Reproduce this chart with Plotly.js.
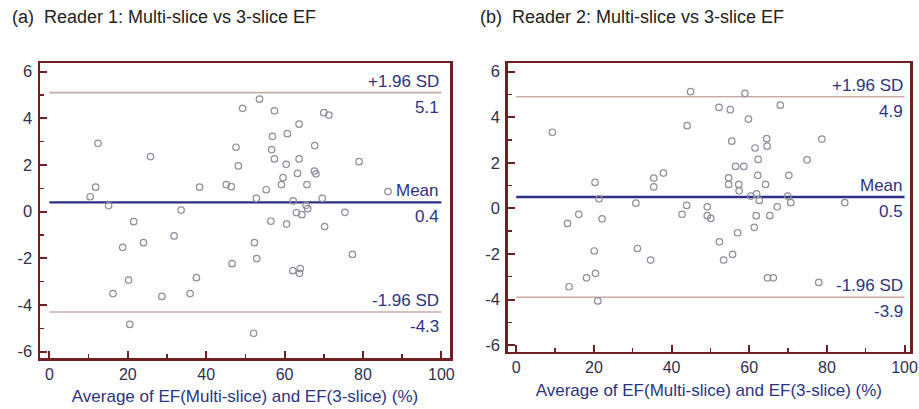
<!DOCTYPE html>
<html>
<head>
<meta charset="utf-8">
<script src="https://cdn.plot.ly/plotly-3.0.1.min.js"></script>
<style>html,body{margin:0;padding:0;background:#fff;}#chart{width:919px;height:409px;}</style>
</head>
<body>
<div id="chart"></div>
<script>
// Panel (a): Reader 1
const readerAX = [12.4, 25.8, 11.8, 10.4, 15.1, 38.3, 45.1, 46.4, 33.6, 21.5, 24.0, 18.7, 31.8, 46.6, 37.5, 20.2, 16.2, 35.9, 28.7, 20.5, 53.6, 49.3, 57.4, 70.0, 71.3, 63.7, 56.9, 60.7, 47.6, 67.7, 56.7, 57.4, 63.7, 60.4, 48.2, 79.0, 63.3, 67.6, 68.0, 59.6, 59.2, 55.3, 65.7, 52.8, 69.6, 62.2, 65.5, 65.9, 63.0, 64.4, 75.4, 86.4, 56.5, 60.5, 70.2, 52.3, 52.9, 77.3, 62.1, 64.0, 63.8, 52.1];
const readerAY = [2.93, 2.36, 1.05, 0.64, 0.26, 1.05, 1.16, 1.07, 0.07, -0.43, -1.33, -1.53, -1.04, -2.23, -2.83, -2.93, -3.51, -3.51, -3.63, -4.83, 4.82, 4.43, 4.32, 4.24, 4.14, 3.75, 3.23, 3.34, 2.76, 2.83, 2.66, 2.26, 2.26, 2.03, 1.96, 2.14, 1.64, 1.74, 1.62, 1.46, 1.16, 0.94, 1.16, 0.57, 0.57, 0.46, 0.27, 0.13, -0.04, -0.13, -0.03, 0.86, -0.41, -0.53, -0.64, -1.33, -2.01, -1.83, -2.53, -2.44, -2.64, -5.21];
const statsA = {upper: 5.1, mean: 0.4, lower: -4.3};

// Panel (b): Reader 2
const readerBX = [9.3, 44.9, 44.0, 37.9, 35.4, 35.4, 20.3, 21.3, 30.8, 43.9, 42.7, 16.1, 13.2, 22.1, 20.1, 31.2, 34.6, 20.4, 18.1, 13.6, 21.0, 58.9, 68.0, 52.2, 55.1, 59.8, 55.5, 64.5, 64.6, 61.5, 78.7, 62.3, 74.9, 56.5, 58.6, 62.2, 70.2, 54.7, 54.7, 57.3, 57.4, 64.2, 60.4, 61.9, 62.6, 69.9, 70.7, 67.2, 84.6, 49.2, 49.2, 50.1, 61.8, 65.3, 61.3, 57.0, 52.3, 55.7, 53.4, 64.7, 66.2, 77.9];
const readerBY = [3.34, 5.12, 3.63, 1.55, 1.33, 0.94, 1.14, 0.42, 0.23, 0.13, -0.26, -0.26, -0.66, -0.46, -1.87, -1.76, -2.27, -2.85, -3.05, -3.44, -4.06, 5.05, 4.53, 4.43, 4.33, 3.92, 2.95, 3.06, 2.73, 2.65, 3.04, 2.15, 2.13, 1.84, 1.84, 1.45, 1.45, 1.34, 1.05, 1.05, 0.77, 1.05, 0.54, 0.64, 0.35, 0.54, 0.25, 0.07, 0.25, 0.07, -0.32, -0.44, -0.32, -0.32, -0.83, -1.07, -1.47, -2.02, -2.27, -3.05, -3.05, -3.25];
const statsB = {upper: 4.9, mean: 0.5, lower: -3.9};

const panelTitles = ["(a)  Reader 1: Multi-slice vs 3-slice EF", "(b)  Reader 2: Multi-slice vs 3-slice EF"];
const xTitle = "Average of EF(Multi-slice) and EF(3-slice) (%)";
const yTickVals = [-6, -4, -2, 0, 2, 4, 6];
const yTickText = ["-6", "-4", "-2", "0", "2", "4", "6"];
const xTickVals = [0, 20, 40, 60, 80, 100];
const xTickText = ["0", "20", "40", "60", "80", "100"];
const lineSpan = [0, 100];

const frameColor = '#6e1f22';
const navy = '#2b3480';
const labelColor = '#2f3050';
const markerColor = '#8e8e9c';
const sdColor = '#c9aba6';
const meanColor = '#2c2f86';
const sans = '"Liberation Sans", Arial, sans-serif';

function panelTraces(xs, ys, st, xa, ya) {
  const tr = [];
  tr.push({x: lineSpan, y: [st.upper, st.upper], xaxis: xa, yaxis: ya, mode: 'lines', line: {color: sdColor, width: 1.6}, hoverinfo: 'skip', showlegend: false});
  tr.push({x: lineSpan, y: [st.lower, st.lower], xaxis: xa, yaxis: ya, mode: 'lines', line: {color: sdColor, width: 1.6}, hoverinfo: 'skip', showlegend: false});
  tr.push({x: lineSpan, y: [st.mean, st.mean], xaxis: xa, yaxis: ya, mode: 'lines', line: {color: meanColor, width: 2.4}, hoverinfo: 'skip', showlegend: false});
  tr.push({x: xs, y: ys, xaxis: xa, yaxis: ya, mode: 'markers', type: 'scatter',
    marker: {symbol: 'circle-open', size: 6.5, color: markerColor, line: {width: 1.2, color: markerColor}}, showlegend: false});
  return tr;
}

const data = [].concat(
  panelTraces(readerAX, readerAY, statsA, 'x', 'y'),
  panelTraces(readerBX, readerBY, statsB, 'x2', 'y2')
);

function xAxis(domain, range, anchor) {
  return {
    domain: domain, range: range, anchor: anchor,
    showline: true, mirror: true, linecolor: frameColor, linewidth: 2.5,
    ticks: 'inside', ticklen: 7, tickwidth: 2, tickcolor: frameColor,
    tickmode: 'array', tickvals: xTickVals, ticktext: xTickText,
    minor: {ticks: 'inside', ticklen: 4, tickwidth: 1.5, tickcolor: frameColor, dtick: 10, tick0: 0, showgrid: false},
    showgrid: false, zeroline: false,
    tickfont: {family: sans, size: 16, color: labelColor},
    ticklabelstandoff: 0,
    title: {text: xTitle, font: {family: sans, size: 17, color: navy}, standoff: 9}
  };
}
function yAxis(domain, range, anchor) {
  return {
    domain: domain, range: range, anchor: anchor,
    showline: true, mirror: true, linecolor: frameColor, linewidth: 2.5,
    ticks: 'inside', ticklen: 7, tickwidth: 2, tickcolor: frameColor,
    tickmode: 'array', tickvals: yTickVals, ticktext: yTickText,
    minor: {ticks: 'inside', ticklen: 4, tickwidth: 1.5, tickcolor: frameColor, dtick: 1, tick0: 0, showgrid: false},
    showgrid: false, zeroline: false,
    tickfont: {family: sans, size: 16.5, color: labelColor},
    ticklabelstandoff: 2
  };
}

function statAnnotations(st, xa, ya) {
  const f = {family: sans, size: 17, color: navy};
  return [
    {x: lineSpan[1], y: st.upper, xref: xa, yref: ya, text: '+1.96 SD', showarrow: false, xanchor: 'right', yanchor: 'bottom', yshift: 0, font: f},
    {x: lineSpan[1], y: st.upper, xref: xa, yref: ya, text: st.upper.toFixed(1), showarrow: false, xanchor: 'right', yanchor: 'top', yshift: -3, font: f},
    {x: lineSpan[1], y: st.mean, xref: xa, yref: ya, text: 'Mean', showarrow: false, xanchor: 'right', yanchor: 'bottom', yshift: 0, font: f},
    {x: lineSpan[1], y: st.mean, xref: xa, yref: ya, text: st.mean.toFixed(1), showarrow: false, xanchor: 'right', yanchor: 'top', yshift: -3, font: f},
    {x: lineSpan[1], y: st.lower, xref: xa, yref: ya, text: '-1.96 SD', showarrow: false, xanchor: 'right', yanchor: 'bottom', yshift: 0, font: f},
    {x: lineSpan[1], y: st.lower, xref: xa, yref: ya, text: st.lower.toFixed(1), showarrow: false, xanchor: 'right', yanchor: 'top', yshift: -3, font: f}
  ];
}

const W = 919, H = 409, ml = 40, mr = 9, mt = 63, mb = 51;
const pw = W - ml - mr, ph = H - mt - mb;

const layout = {
  width: W, height: H,
  margin: {l: ml, r: mr, t: mt, b: mb, pad: 0},
  paper_bgcolor: '#ffffff', plot_bgcolor: '#ffffff',
  showlegend: false,
  xaxis: xAxis([0, 410 / pw], [-2.4, 102.2], 'y'),
  yaxis: yAxis([0, 1], [-6.27, 6.37], 'x'),
  xaxis2: xAxis([(507.7 - ml) / pw, 1], [-2.2, 101.4], 'y2'),
  yaxis2: yAxis([6.3 / ph, 1], [-6.29, 6.38], 'x2'),
  annotations: [].concat(
    statAnnotations(statsA, 'x', 'y'),
    statAnnotations(statsB, 'x2', 'y2'),
    [
      {x: (10 - ml) / pw, y: (H - mb - 17) / ph, xref: 'paper', yref: 'paper', text: panelTitles[0], showarrow: false, xanchor: 'left', yanchor: 'middle', font: {family: sans, size: 18, color: '#222222'}},
      {x: (478 - ml) / pw, y: (H - mb - 17) / ph, xref: 'paper', yref: 'paper', text: panelTitles[1], showarrow: false, xanchor: 'left', yanchor: 'middle', font: {family: sans, size: 18, color: '#222222'}}
    ]
  )
};

Plotly.newPlot('chart', data, layout, {displayModeBar: false, staticPlot: true});
</script>
</body>
</html>
